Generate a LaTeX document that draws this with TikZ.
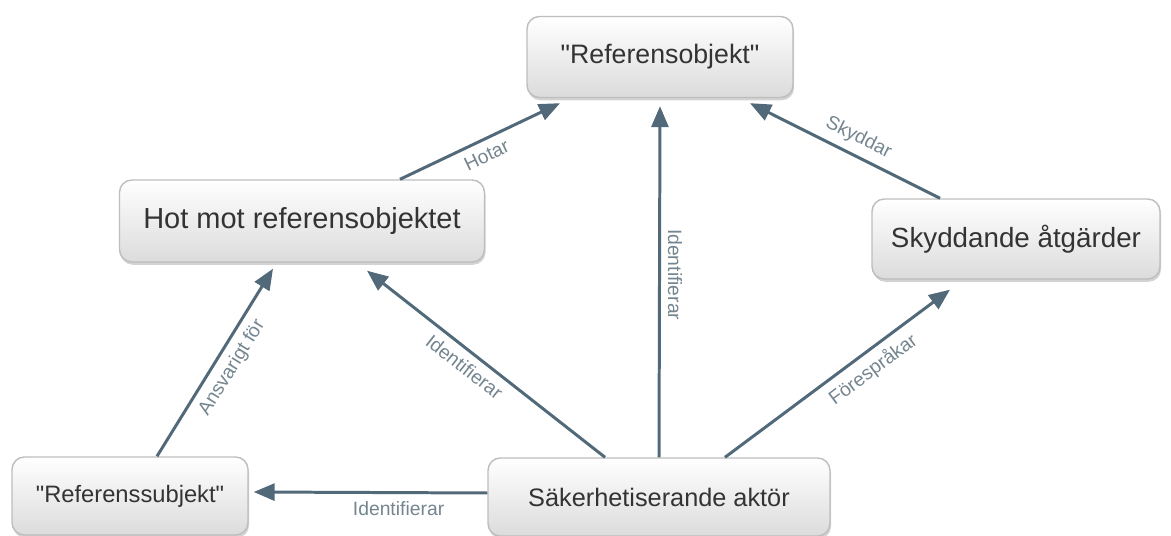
\documentclass[tikz,border=0pt]{standalone}
\usepackage{fontspec}
\setmainfont{Liberation Sans}[Ligatures=TeXOff]
\usepackage{tikz}
\usetikzlibrary{positioning, arrows.meta, shadows}
\definecolor{arrowblue}{HTML}{52697A}
\definecolor{lblgray}{HTML}{74858F}
\definecolor{boxline}{HTML}{BDBDBD}
\definecolor{boxtext}{HTML}{333333}

\begin{document}
\begin{tikzpicture}[
    x=0.02cm, y=-0.02cm,
    box/.style={draw=boxline, line width=0.8pt, rounded corners=7pt, top color=white, bottom color=black!14, text=boxtext, inner sep=6pt, drop shadow={opacity=0.35, shadow xshift=0.6pt, shadow yshift=-1.6pt}},
    lbl/.style={font=\fontsize{11}{13}\selectfont, text=lblgray, inner sep=4pt},
    arr/.style={-{Triangle[length=0.42cm, width=0.34cm]}, line width=1.7pt, arrowblue},
]
\useasboundingbox (0,0) rectangle (1171,536);

% Referensobjekt
\node[box, minimum width=5.32cm, minimum height=1.62cm, font=\fontsize{15.2}{18}\selectfont] (refobj) at (660,57) {"Referensobjekt"};

% Hot
\node[box, minimum width=7.3cm, minimum height=1.64cm, font=\fontsize{16.5}{19}\selectfont] (hot) at (302,221) {Hot mot referensobjektet};

% Skyddande
\node[box, minimum width=5.76cm, minimum height=1.6cm, font=\fontsize{15.8}{19}\selectfont] (skydd) at (1016,239) {Skyddande åtgärder};

% Referenssubjekt
\node[box, minimum width=4.72cm, minimum height=1.56cm, font=\fontsize{13.5}{16}\selectfont] (refsubj) at (130,496) {"Referenssubjekt"};

% Aktor
\node[box, minimum width=6.84cm, minimum height=1.56cm, font=\fontsize{14.4}{17}\selectfont] (aktor) at (659,497) {Säkerhetiserande aktör};

% Relations
\draw[arr] ([xshift=1.96cm]hot.north) -- node[lbl, sloped, below, pos=0.5] (lhotar) {Hotar} ([xshift=-2cm, yshift=-0.1cm]refobj.south);
\draw[arr] (aktor.north) -- node[lbl, rotate=-90, anchor=south, pos=0.52] (lidref) {Identifierar} ([yshift=-0.16cm]refobj.south);
\draw[arr] ([xshift=-1.52cm]skydd.north) -- node[lbl, sloped, above, pos=0.47] (lskydd) {Skyddar} ([xshift=1.8cm, yshift=-0.1cm]refobj.south);
\draw[arr] ([xshift=-1.08cm]aktor.north) -- node[lbl, sloped, below, pos=0.55] (lidhot) {Identifierar} ([xshift=1.3cm, yshift=-0.16cm]hot.south);
\draw[arr] ([xshift=0.54cm]refsubj.north) -- node[lbl, sloped, below, pos=0.52] (lansv) {Ansvarigt för} ([xshift=-0.58cm, yshift=-0.12cm]hot.south);
\draw[arr] ([yshift=0.08cm]aktor.west) -- node[lbl, below, pos=0.38] (lidsubj) {Identifierar} ([xshift=0.1cm, yshift=0.08cm]refsubj.east);
\draw[arr] ([xshift=1.32cm]aktor.north) -- node[lbl, sloped, below, pos=0.61] (lfores) {Förespråkar} ([xshift=-1.32cm, yshift=-0.2cm]skydd.south);

\end{tikzpicture}
\end{document}
